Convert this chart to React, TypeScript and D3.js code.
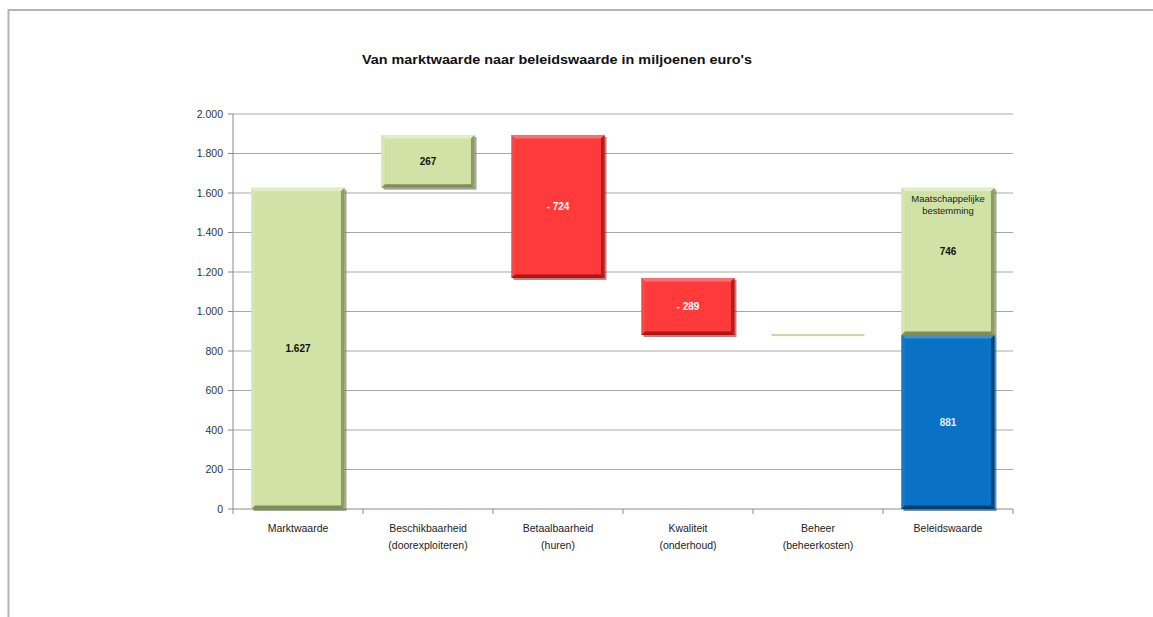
import React from "react";
import * as d3 from "d3";

const title = "Van marktwaarde naar beleidswaarde in miljoenen euro's";
const categories = [
  ["Marktwaarde"],
  ["Beschikbaarheid", "(doorexploiteren)"],
  ["Betaalbaarheid", "(huren)"],
  ["Kwaliteit", "(onderhoud)"],
  ["Beheer", "(beheerkosten)"],
  ["Beleidswaarde"],
];
const startValue = 1627;
const deltas = [267, -724, -289, 0];
const endBlue = 881;
const endGreen = 746;
const endGreenLabel = ["Maatschappelijke", "bestemming"];
const yTicks = [0, 200, 400, 600, 800, 1000, 1200, 1400, 1600, 1800, 2000];

const W = 1153;
const H = 617;
const M = { left: 233, right: 1013, top: 114, bottom: 509 };

const loc = d3.formatLocale({ decimal: ",", thousands: ".", grouping: [3], currency: ["€", ""] });
const fmt = loc.format(",");

const PAL = {
  green: { main: "#d0e2a6", top: "#e3eec4", left: "#d4e5ad", right: "#8e9b69", bottom: "#7f8c5c", shadow: "#4a4a3c" },
  red: { main: "#ff3a3a", top: "#ff6e6e", left: "#ff4646", right: "#b51c1c", bottom: "#a81616", shadow: "#5a1010" },
  blue: { main: "#0a72c4", top: "#3b92d8", left: "#1479c8", right: "#00467e", bottom: "#003e70", shadow: "#001a33" },
};

type Pal = typeof PAL.green;

function BevelBar({ x, y, w, h, pal }: { x: number; y: number; w: number; h: number; pal: Pal }) {
  const b = Math.min(3.5, h / 3);
  return (
    <g>
      <rect x={x + 2} y={y + 2} width={w} height={h} fill={pal.shadow} opacity={0.5} />
      <rect x={x} y={y} width={w} height={h} fill={pal.main} />
      <polygon points={`${x},${y} ${x + w},${y} ${x + w - b},${y + b} ${x + b},${y + b}`} fill={pal.top} />
      <polygon points={`${x},${y} ${x + b},${y + b} ${x + b},${y + h - b} ${x},${y + h}`} fill={pal.left} />
      <polygon points={`${x + w},${y} ${x + w},${y + h} ${x + w - b},${y + h - b} ${x + w - b},${y + b}`} fill={pal.right} />
      <polygon points={`${x},${y + h} ${x + w},${y + h} ${x + w - b},${y + h - b} ${x + b},${y + h - b}`} fill={pal.bottom} />
    </g>
  );
}

export default function App() {
  const names = categories.map((c) => c.join(" "));
  const x = d3.scaleBand<string>().domain(names).range([M.left, M.right]).paddingInner(0.285).paddingOuter(0.1425);
  const y = d3.scaleLinear().domain([0, 2000]).range([M.bottom, M.top]);
  const step = x.step();
  const bw = x.bandwidth();
  const font = "'Liberation Sans', Arial, sans-serif";

  const segs: { i: number; lo: number; hi: number; pal: Pal; label: string; labelColor: string }[] = [];
  segs.push({ i: 0, lo: 0, hi: startValue, pal: PAL.green, label: fmt(startValue), labelColor: "#111" });
  let cum = startValue;
  deltas.forEach((d, k) => {
    const lo = Math.min(cum, cum + d);
    const hi = Math.max(cum, cum + d);
    segs.push({
      i: k + 1,
      lo,
      hi,
      pal: d >= 0 ? PAL.green : PAL.red,
      label: d > 0 ? fmt(d) : d < 0 ? "- " + fmt(-d) : "",
      labelColor: d >= 0 ? "#111" : "#ffffff",
    });
    cum += d;
  });

  const lastName = names[5];
  const lx = x(lastName)!;

  return (
    <svg width={W} height={H} style={{ position: "absolute", left: 0, top: 0, background: "#fff" }} fontFamily={font}>
      <rect x={0} y={0} width={W} height={H} fill="#fff" />
      <path d={`M8.5,${H} L8.5,10 L${W},10`} fill="none" stroke="#b4b4b4" strokeWidth={2} />
      <text x={557} y={64} textAnchor="middle" fontSize={13.5} fontWeight="bold" fill="#111" textLength={390} lengthAdjust="spacingAndGlyphs">
        {title}
      </text>

      {yTicks.map((t) => (
        <g key={t}>
          {t > 0 && <line x1={M.left} x2={M.right} y1={y(t)} y2={y(t)} stroke="#a8a8a8" strokeWidth={1} />}
          <line x1={M.left - 5} x2={M.left} y1={y(t)} y2={y(t)} stroke="#8a8a8a" />
          <text x={M.left - 10} y={y(t)} dy="0.35em" textAnchor="end" fontSize={10.5} fill="#333">
            {fmt(t)}
          </text>
        </g>
      ))}
      <line x1={M.left} x2={M.left} y1={M.top} y2={M.bottom} stroke="#8a8a8a" />
      <line x1={M.left} x2={M.right} y1={M.bottom} y2={M.bottom} stroke="#8a8a8a" />
      {d3.range(names.length + 1).map((k) => (
        <line key={k} x1={M.left + k * step} x2={M.left + k * step} y1={M.bottom} y2={M.bottom + 5} stroke="#8a8a8a" />
      ))}

      {segs.map((s) => {
        const bx = x(names[s.i])!;
        const top = y(s.hi);
        const h = y(s.lo) - y(s.hi);
        if (h < 1) {
          return <line key={s.i} x1={bx} x2={bx + bw} y1={top} y2={top} stroke="#c6dc9c" strokeWidth={2} />;
        }
        return (
          <g key={s.i}>
            <BevelBar x={bx} y={top} w={bw} h={h} pal={s.pal} />
            <text x={bx + bw / 2} y={y((s.lo + s.hi) / 2)} dy="0.35em" textAnchor="middle" fontSize={10} fontWeight="bold" fill={s.labelColor}>
              {s.label}
            </text>
          </g>
        );
      })}

      <BevelBar x={lx} y={y(endBlue + endGreen)} w={bw} h={y(endBlue) - y(endBlue + endGreen)} pal={PAL.green} />
      <BevelBar x={lx} y={y(endBlue)} w={bw} h={y(0) - y(endBlue)} pal={PAL.blue} />
      {endGreenLabel.map((l, k) => (
        <text key={l} x={lx + bw / 2} y={y(endBlue + endGreen) + 14 + k * 12} textAnchor="middle" fontSize={9.5} fill="#222">
          {l}
        </text>
      ))}
      <text x={lx + bw / 2} y={y(endBlue + endGreen / 2) - 10} dy="0.35em" textAnchor="middle" fontSize={10} fontWeight="bold" fill="#111">
        {fmt(endGreen)}
      </text>
      <text x={lx + bw / 2} y={y(endBlue / 2)} dy="0.35em" textAnchor="middle" fontSize={10} fontWeight="bold" fill="#e4f0fb">
        {fmt(endBlue)}
      </text>

      {categories.map((c, k) => (
        <text key={k} x={x(names[k])! + bw / 2} y={532} textAnchor="middle" fontSize={10.5} fill="#222">
          {c.map((line, j) => (
            <tspan key={j} x={x(names[k])! + bw / 2} dy={j === 0 ? 0 : 17}>
              {line}
            </tspan>
          ))}
        </text>
      ))}
    </svg>
  );
}
